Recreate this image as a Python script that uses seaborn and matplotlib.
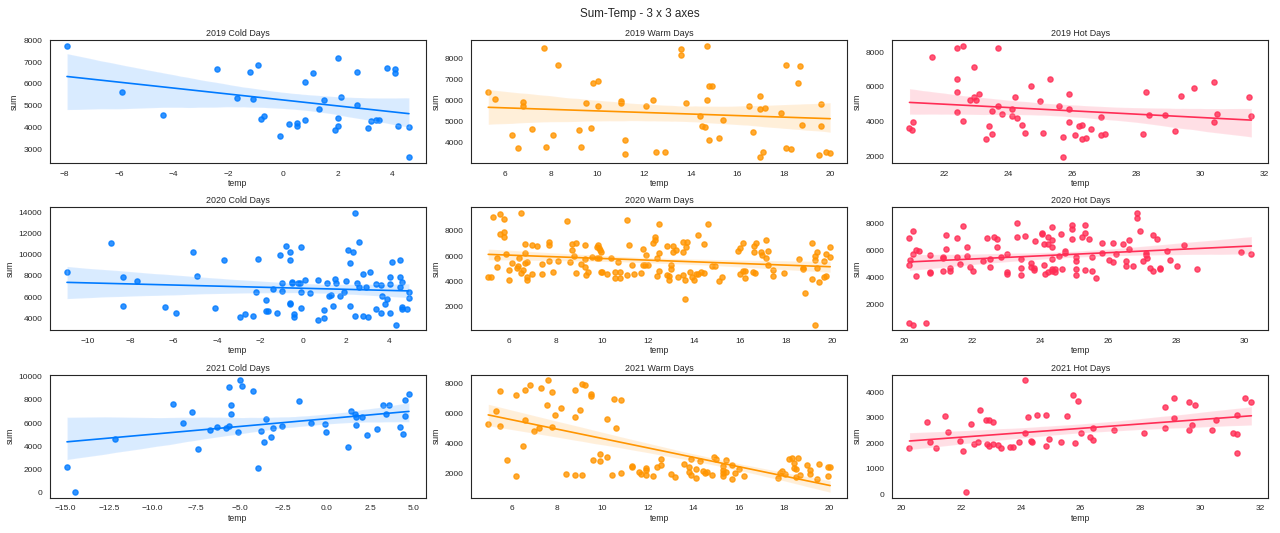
import matplotlib
matplotlib.use('Agg')
import matplotlib.pyplot as plt
import seaborn as sns
import pandas as pd

# --- 數據 ---
cold19_temp = [-7.9, -5.9, -4.4, -2.4, -1.7, -1.2, -1.1, -0.9, -0.8, -0.7,
               -0.1, 0.2, 0.5, 0.5, 0.8, 0.8, 1.1, 1.3, 1.5, 1.9,
               2.0, 2.0, 2.0, 2.1, 2.7, 2.7, 3.1, 3.2, 3.4, 3.5,
               3.8, 4.1, 4.1, 4.2, 4.6, 4.6]
cold19_sum = [7750, 5620, 4600, 6700, 5350, 6550, 5320, 6870, 4400, 4540,
              3630, 4170, 4200, 4080, 6070, 4340, 6480, 4880, 5260, 3900,
              7190, 4450, 4100, 5420, 6540, 5040, 4000, 4310, 4370, 4340,
              6740, 6670, 6500, 4100, 4040, 2650]

warm19_temp = [5.3, 5.6, 6.3, 6.6, 6.8, 6.8, 7.2, 7.7, 7.8, 8.1,
               8.3, 9.2, 9.3, 9.5, 9.7, 9.8, 10.0, 10.0, 11.0, 11.0,
               11.2, 11.2, 12.1, 12.4, 12.5, 12.9, 13.6, 13.6, 13.8, 14.4,
               14.5, 14.6, 14.7, 14.7, 14.8, 14.9, 14.8, 15.2, 15.4, 16.5,
               16.7, 17.0, 17.0, 17.2, 17.0, 17.1, 17.9, 18.1, 18.1, 18.3,
               18.7, 18.6, 18.8, 19.5, 19.6, 19.6, 19.8, 20.0]
warm19_sum = [6390, 6070, 4370, 3730, 5930, 5720, 4650, 8510, 3780, 4330,
              7670, 4590, 3780, 5900, 4690, 6810, 6920, 5720, 5980, 5870,
              4130, 3440, 5720, 6010, 3560, 3520, 8480, 8160, 5870, 5260,
              4770, 4730, 6040, 8620, 6680, 6710, 4100, 4210, 5090, 5750,
              4480, 6220, 5610, 5640, 3280, 3560, 5400, 7700, 3720, 3670,
              7630, 6850, 4830, 3410, 4770, 5830, 3560, 3490]

hot19_temp = [20.92, 21.01, 21.02, 21.61, 22.41, 22.60, 22.41, 22.41, 22.41, 22.60,
              22.81, 22.92, 22.92, 23.01, 23.09, 23.30, 23.40, 23.51, 23.51, 23.69,
              23.69, 23.82, 24.11, 24.11, 24.21, 24.29, 24.42, 24.51, 24.72, 24.99,
              25.10, 25.29, 25.59, 25.71, 25.90, 25.91, 25.90, 26.09, 26.20, 26.31,
              26.31, 26.42, 26.60, 26.89, 26.89, 27.01, 25.72, 28.21, 28.30, 28.40,
              28.90, 29.21, 29.40, 29.80, 30.41, 30.41, 30.51, 31.50, 31.59]
hot19_sum = [3615, 3520, 4000, 7710, 8270, 8385, 6460, 5710, 4540, 4040,
             5270, 7150, 5400, 5230, 5615, 3000, 3770, 4635, 3310, 8230,
             4900, 4420, 4710, 4330, 5440, 4210, 3810, 3350, 6040, 5190,
             3350, 6460, 4885, 3115, 5615, 4710, 4000, 3250, 3730, 3810,
             3020, 3060, 3575, 4250, 3230, 3270, 1940, 3270, 5730, 4365,
             4365, 3480, 5480, 5940, 6290, 4000, 4420, 5440, 4330]

cold20_temp = [-10.96, -8.92, -8.35, -8.35, -7.73, -6.43, -5.92, -5.12, -4.91, -4.11,
               -3.69, -2.92, -2.70, -2.30, -2.19, -2.10, -1.73, -1.73, -1.61, -1.40,
               -1.20, -1.09, -0.99, -0.99, -0.79, -0.62, -0.62, -0.62, -0.62, -0.51,
               -0.51, -0.40, -0.40, -0.23, -0.12, -0.09, -0.09, -0.09, 0.11, 0.31,
               0.70, 0.70, 0.99, 0.99, 1.10, 1.21, 1.30, 1.39, 1.50, 1.51,
               1.72, 1.92, 1.98, 2.11, 2.19, 2.19, 2.31, 2.41, 2.41, 2.53,
               2.61, 2.61, 2.81, 2.81, 2.92, 3.03, 3.12, 3.38, 3.38, 3.62,
               3.62, 3.69, 3.81, 3.91, 4.02, 4.02, 4.02, 4.14, 4.34, 4.50,
               4.50, 4.50, 4.61, 4.61, 4.61, 4.81, 4.92, 4.92]
cold20_sum = [8400, 11090, 7890, 5110, 7540, 5040, 4470, 10300, 7990, 4920,
              9540, 4130, 4350, 4190, 6500, 9600, 5740, 4700, 4700, 6785,
              4470, 9950, 7320, 6560, 10800, 10300, 9475, 5420, 5300, 7420,
              7320, 4410, 4100, 7320, 7320, 6500, 4950, 10740, 7580, 6370,
              7640, 3840, 4760, 4060, 7350, 6060, 6220, 5170, 7670, 7290,
              6120, 6470, 7510, 10460, 5140, 9220, 10230, 13970, 4220, 7290,
              11220, 7000, 8210, 4250, 7000, 4130, 8340, 7230, 4890, 7160,
              4470, 6090, 5330, 5800, 7890, 7260, 4470, 9350, 3370, 9500,
              7860, 6940, 7390, 5050, 4850, 4890, 6470, 5870]

warm20_temp = [5.09, 5.21, 5.31, 5.49, 5.49, 5.60, 5.60, 5.78, 5.78, 5.78,
               5.88, 5.99, 5.99, 6.10, 6.32, 6.39, 6.42, 6.49, 6.49, 6.59,
               6.68, 6.68, 6.68, 6.78, 6.78, 6.78, 7.00, 7.00, 7.20, 7.40,
               7.40, 7.70, 7.70, 7.70, 7.90, 8.11, 8.51, 8.61, 8.70, 8.70,
               8.80, 8.90, 8.90, 9.10, 9.28, 9.28, 9.28, 9.30, 9.41, 9.59,
               9.79, 9.79, 9.85, 9.90, 9.90, 9.92, 9.98, 9.98, 10.01, 10.21,
               10.40, 10.59, 10.59, 10.69, 10.81, 10.81, 11.19, 11.09, 11.11, 11.30,
               11.40, 11.70, 11.79, 11.79, 11.89, 11.90, 11.99, 12.21, 12.29, 12.29,
               12.41, 12.41, 12.49, 12.49, 12.49, 12.81, 12.81, 12.90, 12.93, 13.00,
               13.00, 13.10, 13.10, 13.20, 13.29, 13.50, 13.50, 13.50, 13.60, 13.60,
               13.65, 13.71, 13.81, 13.89, 13.99, 14.09, 14.18, 14.18, 14.30, 14.43,
               14.43, 14.62, 14.79, 14.90, 15.09, 15.22, 15.88, 15.98, 16.00, 16.11,
               16.11, 16.21, 16.21, 16.53, 16.61, 16.61, 16.64, 16.69, 16.91, 16.92,
               17.10, 17.10, 17.21, 17.21, 17.40, 17.40, 17.90, 18.53, 18.71, 18.71,
               18.81, 19.12, 19.12, 19.22, 19.22, 19.22, 19.32, 19.33, 19.42, 19.61,
               19.61, 19.72, 19.72, 19.89, 19.89]
warm20_sum = [4320, 4320, 9150, 5120, 5840, 9360, 7730, 8930, 7890, 7490,
              6130, 4880, 4080, 5470, 5040, 5230, 5840, 9440, 4610, 4880,
              6960, 6270, 5470, 5550, 4290, 4050, 6850, 4530, 6770, 5360,
              4560, 7120, 6880, 5630, 4690, 5600, 8800, 5490, 6960, 6480,
              6000, 7040, 4640, 5330, 6850, 5760, 5120, 4480, 4720, 5950,
              6720, 5840, 6880, 6640, 5840, 6480, 6290, 4750, 4690, 4530,
              5870, 4690, 4240, 5550, 4690, 4240, 6880, 8880, 4480, 5310,
              4590, 4640, 6590, 5310, 5310, 6080, 5310, 7010, 7490, 7250,
              5870, 4400, 8560, 6270, 4800, 6830, 4450, 4110, 4400, 4930,
              5250, 6830, 6350, 6510, 4320, 7120, 6350, 4480, 4110, 2560,
              6690, 7120, 4720, 4320, 4050, 4560, 7650, 4560, 4690, 6960,
              4640, 8560, 5200, 5200, 3970, 4290, 6430, 6640, 4530, 7010,
              4800, 4800, 4240, 4720, 6830, 6350, 4640, 7060, 6350, 6110,
              7250, 5870, 6430, 5280, 4880, 4400, 4640, 5760, 5010, 4930,
              3040, 7040, 4190, 6000, 5710, 510, 6350, 5010, 3950, 5570,
              4320, 4430, 6190, 6690, 5950]

hot20_temp = [20.14, 20.14, 20.16, 20.23, 20.23, 20.14, 20.23, 20.62, 20.33, 20.33,
              20.43, 20.73, 20.73, 20.73, 21.12, 21.12, 21.12, 21.23, 21.23, 21.32,
              21.32, 21.54, 21.54, 21.64, 21.73, 21.83, 21.83, 21.93, 22.02, 22.32,
              22.43, 22.51, 22.51, 22.63, 22.71, 22.72, 22.83, 23.02, 23.02, 23.02,
              23.32, 23.32, 23.42, 23.42, 23.42, 23.53, 23.72, 23.73, 23.82, 23.82,
              23.83, 24.03, 24.03, 24.11, 24.11, 24.12, 24.22, 24.23, 24.23, 24.33,
              24.33, 24.33, 24.33, 24.33, 24.33, 24.43, 24.43, 24.53, 24.61, 24.62,
              24.72, 24.72, 24.93, 24.93, 24.93, 25.03, 25.03, 25.03, 25.03, 25.23,
              25.32, 25.32, 25.32, 25.42, 25.52, 25.52, 25.63, 25.82, 25.82, 26.02,
              26.12, 26.12, 26.22, 26.42, 26.52, 26.52, 26.62, 26.62, 26.72, 26.83,
              26.83, 26.92, 27.02, 27.11, 27.11, 27.13, 27.22, 27.32, 27.32, 27.42,
              27.52, 27.52, 27.71, 27.82, 28.02, 28.22, 28.62, 29.91, 30.21]
hot20_sum = [6940, 4940, 5330, 7460, 5780, 690, 520, 640, 6050, 4120,
             6000, 5680, 4400, 4320, 5560, 5460, 4490, 7160, 6100, 4690,
             4520, 6960, 5530, 5040, 7800, 6270, 5580, 4790, 4470, 5210,
             6910, 5380, 4790, 7040, 6860, 6270, 5530, 5730, 4440, 4300,
             8070, 6990, 5410, 4690, 4200, 7090, 5090, 4810, 4690, 4540,
             6690, 7280, 7230, 6490, 4960, 4300, 6990, 6520, 4400, 7750,
             6770, 6270, 5380, 4640, 4490, 4640, 4400, 5580, 7210, 4620,
             5950, 5850, 7930, 7630, 6860, 5530, 5260, 4620, 4170, 6990,
             7930, 7280, 4590, 6860, 5510, 4470, 4000, 6570, 5830, 5280,
             6570, 5160, 5750, 6520, 5260, 4890, 6810, 6120, 4890, 8790,
             8400, 7480, 5210, 5830, 5650, 5430, 4720, 7190, 4520, 6860,
             4720, 4620, 5950, 5280, 4890, 6420, 4670, 5880, 5780]

cold21_temp = [-14.92, -14.46, -12.19, -8.81, -8.27, -7.72, -7.41, -6.68, -6.28, -5.79,
               -5.61, -5.61, -5.50, -5.50, -5.11, -4.98, -4.89, -4.22, -3.93, -3.80,
               -3.59, -3.49, -3.21, -3.11, -2.59, -1.58, -0.89, -0.09, -0.01, 1.23,
               1.39, 1.62, 1.69, 1.69, 2.04, 2.34, 2.92, 3.22, 3.43, 3.60,
               4.20, 4.41, 4.48, 4.50, 4.73]
cold21_sum = [2210, 60, 4600, 7640, 6030, 6920, 3740, 5400, 5660, 5570,
              9110, 5750, 7530, 6810, 5200, 9680, 9200, 8790, 2160, 5290,
              4400, 6350, 4830, 5550, 5720, 7900, 6030, 5920, 5200, 3940,
              7070, 6780, 6550, 5860, 6490, 4970, 5460, 7560, 6750, 7560,
              5660, 5030, 7990, 6610, 8530]

warm21_temp = [4.97, 5.30, 5.50, 5.50, 5.78, 6.18, 6.18, 6.50, 6.60, 6.60,
               6.81, 6.98, 7.19, 7.29, 7.57, 7.58, 7.80, 7.80, 7.91, 8.18,
               8.39, 8.79, 8.79, 8.79, 9.01, 9.11, 9.11, 9.21, 9.49, 9.49,
               9.59, 9.90, 9.90, 10.21, 10.21, 10.41, 10.50, 10.60, 10.81, 10.81,
               11.31, 11.31, 11.60, 11.72, 11.91, 11.91, 11.91, 12.22, 12.41, 12.60,
               12.60, 13.01, 13.21, 13.61, 13.80, 13.80, 13.89, 13.90, 14.11, 14.12,
               14.31, 14.42, 14.50, 14.62, 14.81, 14.91, 15.01, 15.33, 15.33, 15.33,
               15.33, 15.43, 15.43, 15.71, 15.72, 15.82, 16.01, 16.22, 17.72, 17.82,
               17.92, 18.03, 18.21, 18.33, 18.42, 18.42, 18.52, 18.52, 18.62, 18.72,
               19.02, 19.14, 19.14, 19.43, 19.53, 19.93, 19.93, 20.03]
warm21_sum = [5290, 6130, 7510, 5160, 2870, 7200, 1780, 3800, 7560, 5530,
              7910, 4820, 5040, 7670, 6530, 8200, 7420, 5090, 5870, 6330,
              1930, 7560, 5730, 1890, 6220, 7980, 1890, 7890, 7310, 7130,
              2870, 3290, 2780, 5640, 3070, 1840, 6960, 5000, 6870, 2000,
              2490, 2380, 2040, 1930, 2330, 2180, 1870, 1780, 2380, 2960,
              2510, 1960, 1730, 2620, 2400, 2090, 2910, 1890, 2240, 1640,
              2820, 2130, 2020, 2090, 1890, 3070, 2960, 2440, 2180, 2000,
              1780, 2870, 2040, 2530, 1580, 2000, 2240, 1780, 1670, 2020,
              2110, 1910, 2960, 3000, 2690, 2310, 2270, 1710, 3000, 1890,
              2510, 2220, 1960, 1600, 2580, 1820, 2380, 2420]

hot21_temp = [20.28, 20.87, 20.97, 21.17, 21.46, 21.56, 21.96, 22.06, 22.16, 22.35,
              22.45, 22.56, 22.65, 22.85, 22.86, 22.95, 22.95, 23.06, 23.06, 23.25,
              23.35, 23.64, 23.75, 23.94, 24.14, 24.14, 24.24, 24.34, 24.36, 24.53,
              24.83, 24.83, 24.94, 25.33, 25.54, 25.74, 25.83, 25.93, 26.03, 26.33,
              26.43, 26.43, 27.13, 28.12, 28.83, 28.83, 29.13, 29.13, 29.62, 29.62,
              29.72, 29.82, 30.41, 30.52, 31.09, 31.22, 31.22, 31.22, 31.51, 31.71]
hot21_sum = [1790, 2820, 2050, 1790, 3050, 2420, 2070, 1710, 70, 2750,
             1960, 2040, 3300, 2930, 1960, 2910, 1870, 2840, 1950, 1930,
             1790, 1840, 1840, 2050, 4470, 2390, 3040, 2080, 2040, 3110,
             3110, 1870, 2170, 2050, 3050, 3880, 1990, 3660, 2390, 2240,
             2610, 2110, 2510, 2380, 3420, 2610, 3780, 2990, 3630, 2500,
             2720, 3510, 2510, 2910, 2410, 3110, 2360, 1610, 3780, 3610]

# 顏色 (cold / warm / hot)
cold_color = '#007aff'
warm_color = '#ff9500'
hot_color = '#ff2d55'

panels = [
    (cold19_temp, cold19_sum, '2019 Cold Days', cold_color),
    (warm19_temp, warm19_sum, '2019 Warm Days', warm_color),
    (hot19_temp, hot19_sum, '2019 Hot Days', hot_color),
    (cold20_temp, cold20_sum, '2020 Cold Days', cold_color),
    (warm20_temp, warm20_sum, '2020 Warm Days', warm_color),
    (hot20_temp, hot20_sum, '2020 Hot Days', hot_color),
    (cold21_temp, cold21_sum, '2021 Cold Days', cold_color),
    (warm21_temp, warm21_sum, '2021 Warm Days', warm_color),
    (hot21_temp, hot21_sum, '2021 Hot Days', hot_color),
]

# --- 繪圖設定 ---
sns.set_style('white')
plt.rcParams['font.family'] = ['Liberation Sans', 'DejaVu Sans']
plt.rcParams['xtick.labelsize'] = 6
plt.rcParams['ytick.labelsize'] = 6
plt.rcParams['axes.labelsize'] = 6.2
plt.rcParams['axes.titlesize'] = 6.4

fig, axes = plt.subplots(3, 3, figsize=(12.8, 5.33), dpi=100)

for ax, (temp, total, title, color) in zip(axes.flat, panels):
    df = pd.DataFrame({'temp': temp, 'sum': total})
    sns.regplot(data=df, x='temp', y='sum', ax=ax, color=color, seed=0,
                scatter_kws={'s': 14}, line_kws={'lw': 1.2})
    ax.set_title(title, pad=3)
    ax.xaxis.labelpad = 1
    ax.yaxis.labelpad = 3
    ax.tick_params(pad=2)

fig.suptitle('Sum-Temp - 3 x 3 axes', fontsize=8.4, y=0.985)
fig.subplots_adjust(left=0.039, right=0.991, top=0.925, bottom=0.066,
                    wspace=0.12, hspace=0.36)
fig.savefig('out.png', dpi=100)
